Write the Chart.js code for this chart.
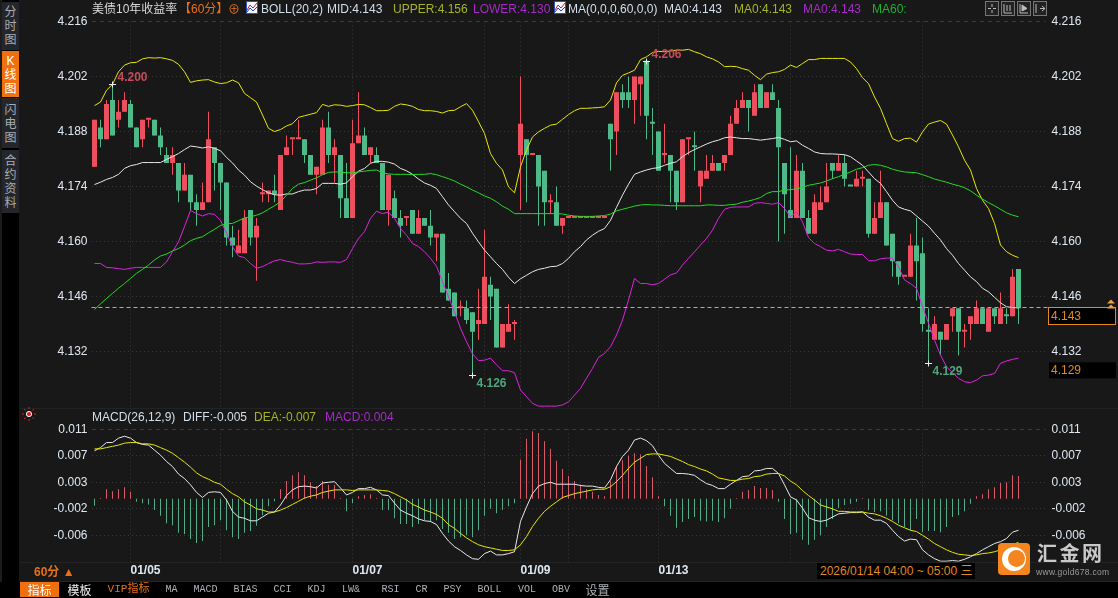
<!DOCTYPE html>
<html>
<head>
<meta charset="utf-8">
<title>美债10年收益率</title>
<script src="https://cdn.jsdelivr.net/npm/chart.js@4"></script>
<style>
html,body{margin:0;padding:0;background:#181818;overflow:hidden}
body{width:1118px;height:598px;position:relative;font:12px "Liberation Sans","Noto Sans CJK SC",sans-serif;color:#d3dfea}
canvas{position:absolute;left:0}
.t{position:absolute;white-space:pre;line-height:14px;z-index:3}
.side{position:absolute;left:2px;width:17px;background:#24262c;color:#a9adb3;text-align:center;font-size:12px;line-height:14px;z-index:3}
.tab{position:absolute;top:582px;height:15px;background:#000;color:#aeb2b6;text-align:center;font:10px/15px "Liberation Mono","Noto Sans CJK SC",monospace;z-index:3}
.rule{position:absolute;background:#232323;z-index:1}
.ico{position:absolute;z-index:3}
</style>
</head>
<body>
<div class="rule" style="left:0;top:0;width:19px;height:598px;background:#000"></div>
<div class="rule" style="left:0;top:0;width:2px;height:598px;background:#1c1c1c"></div>
<div class="rule" style="left:20px;top:408px;width:1098px;height:1px"></div>
<div class="rule" style="left:20px;top:562px;width:1098px;height:1px"></div>
<div class="rule" style="left:20px;top:581px;width:1098px;height:1px"></div>
<div class="rule" style="left:0;top:582px;width:1118px;height:16px;background:#000"></div>

<div class="side" style="top:2px;height:48px;padding-top:3px;box-sizing:border-box">分<br>时<br>图</div>
<div class="side" style="top:51px;height:46px;padding-top:3px;box-sizing:border-box;background:#f07010;color:#fff">K<br>线<br>图</div>
<div class="side" style="top:98px;height:50px;padding-top:5px;box-sizing:border-box">闪<br>电<br>图</div>
<div class="side" style="top:150px;height:63px;padding-top:4px;box-sizing:border-box">合<br>约<br>资<br>料</div>

<span class="t" style="left:92px;top:2px;color:#d8d8d8">美债10年收益率</span>
<span class="t" style="left:179px;top:2px;color:#e8701a">【60分】</span>
<span class="t" style="left:228px;top:3px;color:#e8701a">⊕</span>
<svg class="ico" style="left:246px;top:1px" width="12" height="14"><rect x="0.5" y="0.5" width="11" height="12" fill="#f4f6ff" stroke="#3050c0"/><path d="M1 9 L4 4 L7 7 L11 2" stroke="#d02020" fill="none"/><path d="M1 11 L4 7 L7 10 L11 6" stroke="#2040d0" fill="none"/></svg>
<span class="t" style="left:261px;top:2px">BOLL(20,2)</span>
<span class="t" style="left:327px;top:2px">MID:4.143</span>
<span class="t" style="left:393px;top:2px;color:#a6b422">UPPER:4.156</span>
<span class="t" style="left:473px;top:2px;color:#a62ac8">LOWER:4.130</span>
<svg class="ico" style="left:554px;top:1px" width="12" height="14"><rect x="0.5" y="0.5" width="11" height="12" fill="#f4f6ff" stroke="#3050c0"/><path d="M1 9 L4 4 L7 7 L11 2" stroke="#d02020" fill="none"/><path d="M1 11 L4 7 L7 10 L11 6" stroke="#2040d0" fill="none"/></svg>
<span class="t" style="left:568px;top:2px">MA(0,0,0,60,0,0)</span>
<span class="t" style="left:664px;top:2px">MA0:4.143</span>
<span class="t" style="left:734px;top:2px;color:#a6b422">MA0:4.143</span>
<span class="t" style="left:803px;top:2px;color:#a62ac8">MA0:4.143</span>
<span class="t" style="left:872px;top:2px;color:#1fb02f">MA60:</span>

<svg class="ico" style="left:985px;top:1px" width="62" height="15" fill="none" stroke="#bbb">
<rect x="0.5" y="0.5" width="13" height="14" fill="#222" stroke="#777"/><path d="M7 3V6M7 9V12M3 7.5H6M8 7.5H11"/>
<rect x="16.5" y="0.5" width="13" height="14" fill="#222" stroke="#777"/><path d="M19 3V12H27M22 4V10M25 4V10"/>
<rect x="32.5" y="0.5" width="13" height="14" fill="#222" stroke="#777"/><path d="M35 3V12H43"/><path d="M37 4L42 7.5L37 10Z" fill="#bbb"/>
<rect x="48.5" y="0.5" width="13" height="14" fill="#222" stroke="#777"/><path d="M51 3V12M55 7.5H60M57 5L60 7.5L57 10"/>
</svg>

<svg class="ico" style="left:22px;top:407px" width="14" height="14"><circle cx="7" cy="7" r="2.6" fill="#e02020" stroke="#fff"/><path d="M7 0V2M7 12V14M0 7H2M12 7H14M2 2L3.5 3.5M10.5 10.5L12 12M12 2L10.5 3.5M2 12L3.5 10.5" stroke="#e02020"/></svg>
<span class="t" style="left:92px;top:410px">MACD(26,12,9)</span>
<span class="t" style="left:183px;top:410px">DIFF:-0.005</span>
<span class="t" style="left:254px;top:410px;color:#a6b422">DEA:-0.007</span>
<span class="t" style="left:325px;top:410px;color:#a62ac8">MACD:0.004</span>

<span class="t" style="left:34px;top:565px;color:#e8701a;font-weight:bold">60分 ▲</span>
<span class="t" style="left:817px;top:563px;height:16px;line-height:16px;padding:0 3px;background:#000;color:#e08a20">2026/01/14 04:00 ~ 05:00 三</span>

<div class="ico" style="left:998px;top:543px;width:32px;height:32px;border-radius:4px;background:#f5851f;overflow:hidden">
  <div style="position:absolute;left:4px;top:4px;width:24px;height:24px;border-radius:50%;background:#fff"></div>
  <div style="position:absolute;left:10px;top:7px;width:17px;height:17px;border-radius:50%;background:#f5851f"></div>
</div>
<span class="t" style="left:1037px;top:543px;line-height:22px;font-size:20px;font-weight:bold;letter-spacing:2.5px;color:#c9c9c9">汇金网</span>
<span class="t" style="left:1036px;top:567px;line-height:10px;font-size:8.5px;color:#9a9a9a;letter-spacing:.3px">www.gold678.com</span>

<div class="tab" style="left:20px;width:39px;background:#f07010;color:#fff;font:12px/15px 'Noto Sans CJK SC'">指标</div>
<div class="tab" style="left:60px;width:39px;color:#eee;font:12px/15px 'Noto Sans CJK SC'">模板</div>
<div class="tab" style="left:100px;width:57px;color:#e8701a;font:11px/15px 'Liberation Mono','Noto Sans CJK SC'">VIP指标</div>
<div class="tab" style="left:158px;width:27px">MA</div>
<div class="tab" style="left:186px;width:39px">MACD</div>
<div class="tab" style="left:226px;width:39px">BIAS</div>
<div class="tab" style="left:266px;width:33px">CCI</div>
<div class="tab" style="left:300px;width:33px">KDJ</div>
<div class="tab" style="left:334px;width:34px">LW&amp;</div>
<div class="tab" style="left:374px;width:33px">RSI</div>
<div class="tab" style="left:408px;width:27px">CR</div>
<div class="tab" style="left:436px;width:33px">PSY</div>
<div class="tab" style="left:470px;width:39px">BOLL</div>
<div class="tab" style="left:510px;width:34px">VOL</div>
<div class="tab" style="left:545px;width:32px">OBV</div>
<div class="tab" style="left:578px;width:39px;font:12px/15px 'Noto Sans CJK SC'">设置</div>

<canvas id="priceChart" width="1118" height="410" style="top:0;z-index:2"></canvas>
<canvas id="macdChart" width="1118" height="188" style="top:410px;z-index:2"></canvas>

<script>
// candles (a green doji has its open a hair over its close)
const opens = [
  4.179,4.189,4.186,4.196,4.191,4.193,4.195,4.189,4.186,4.191,
  4.191,4.187,4.182,4.180,4.180,4.173,4.177,4.170,4.168,4.170,
  4.184,4.180,4.175,4.161,4.157,4.157,4.168,4.161,4.172,4.172,
  4.173,4.168,4.182,4.186,4.186,4.186,4.182,4.177,4.177,4.189,
  4.182,4.182,4.171,4.166,4.185,4.187,4.182,4.182,4.180,4.168,
  4.171,4.166,4.166,4.168,4.162,4.166,4.164,4.161,4.162,4.148,
  4.147,4.143,4.143,4.142,4.139,4.139,4.149,4.148,4.133,4.137,
  4.139,4.182,4.186,4.182,4.182,4.178,4.170,4.170,4.164,4.166,
  4.166,4.166,4.166,4.166,4.166,4.166,4.190,4.188,4.198,4.198,
  4.196,4.200,4.206,4.1901,4.188,4.182,4.182,4.178,4.170,4.186,
  4.1841,4.174,4.176,4.178,4.180,4.180,4.182,4.190,4.194,4.196,
  4.192,4.200,4.194,4.198,4.194,4.180,4.168,4.166,4.178,4.166,
  4.162,4.168,4.170,4.180,4.178,4.180,4.1741,4.174,4.176,4.176,
  4.162,4.166,4.170,4.162,4.155,4.151,4.151,4.159,4.157,4.1371,
  4.135,4.137,4.135,4.141,4.143,4.137,4.139,4.139,4.143,4.137,
  4.143,4.139,4.1411,4.141,4.153
];
const closes = [
  4.191,4.186,4.195,4.187,4.193,4.196,4.189,4.184,4.191,4.191,
  4.187,4.184,4.180,4.182,4.173,4.177,4.170,4.168,4.170,4.186,
  4.180,4.175,4.161,4.159,4.159,4.166,4.161,4.164,4.172,4.173,
  4.172,4.182,4.184,4.186,4.186,4.182,4.177,4.179,4.189,4.182,
  4.184,4.171,4.166,4.185,4.187,4.182,4.184,4.180,4.168,4.177,
  4.166,4.164,4.166,4.162,4.166,4.164,4.161,4.162,4.147,4.145,
  4.141,4.143,4.140,4.137,4.140,4.151,4.146,4.133,4.139,4.139,
  4.139,4.190,4.182,4.182,4.174,4.170,4.170,4.164,4.166,4.166,
  4.166,4.166,4.166,4.166,4.166,4.166,4.186,4.198,4.196,4.196,
  4.202,4.202,4.192,4.190,4.178,4.182,4.178,4.170,4.186,4.186,
  4.184,4.178,4.178,4.180,4.178,4.182,4.190,4.194,4.196,4.194,
  4.198,4.194,4.198,4.196,4.184,4.172,4.166,4.178,4.166,4.162,
  4.170,4.170,4.174,4.178,4.180,4.176,4.174,4.176,4.176,4.162,
  4.166,4.170,4.159,4.155,4.151,4.151,4.159,4.155,4.139,4.137,
  4.139,4.135,4.139,4.143,4.137,4.137,4.141,4.143,4.139,4.143,
  4.141,4.143,4.141,4.151,4.143
];
const highs = [
  4.191,4.191,4.196,4.200,4.196,4.198,4.196,4.189,4.191,4.191,
  4.191,4.189,4.184,4.184,4.180,4.180,4.177,4.172,4.175,4.193,
  4.184,4.180,4.175,4.164,4.163,4.168,4.168,4.166,4.175,4.173,
  4.177,4.182,4.187,4.186,4.191,4.186,4.182,4.179,4.191,4.193,
  4.186,4.182,4.180,4.191,4.198,4.189,4.184,4.184,4.180,4.177,
  4.173,4.168,4.166,4.168,4.168,4.166,4.168,4.162,4.162,4.152,
  4.147,4.145,4.145,4.142,4.148,4.163,4.151,4.148,4.139,4.144,
  4.140,4.202,4.186,4.182,4.182,4.178,4.172,4.174,4.166,4.166,
  4.166,4.166,4.166,4.166,4.166,4.166,4.190,4.198,4.200,4.202,
  4.202,4.202,4.206,4.194,4.188,4.190,4.182,4.178,4.186,4.186,
  4.188,4.178,4.182,4.182,4.180,4.182,4.192,4.196,4.198,4.196,
  4.200,4.200,4.198,4.200,4.196,4.180,4.184,4.182,4.180,4.168,
  4.172,4.174,4.180,4.180,4.182,4.182,4.174,4.178,4.178,4.176,
  4.170,4.178,4.170,4.162,4.155,4.151,4.162,4.166,4.161,4.143,
  4.141,4.137,4.139,4.143,4.143,4.139,4.141,4.145,4.143,4.143,
  4.143,4.147,4.143,4.153,4.153
];
const lows = [
  4.179,4.184,4.186,4.187,4.189,4.193,4.189,4.184,4.184,4.189,
  4.187,4.182,4.180,4.177,4.170,4.173,4.168,4.164,4.168,4.170,
  4.173,4.168,4.159,4.156,4.157,4.157,4.159,4.150,4.170,4.170,
  4.170,4.168,4.182,4.182,4.186,4.180,4.177,4.172,4.177,4.180,
  4.175,4.166,4.166,4.166,4.185,4.182,4.180,4.180,4.168,4.164,
  4.166,4.161,4.164,4.162,4.162,4.164,4.159,4.155,4.147,4.145,
  4.141,4.141,4.139,4.126,4.135,4.139,4.140,4.133,4.133,4.137,
  4.135,4.168,4.170,4.182,4.164,4.164,4.167,4.164,4.162,4.166,
  4.166,4.166,4.166,4.166,4.166,4.166,4.178,4.182,4.194,4.194,
  4.190,4.192,4.186,4.182,4.178,4.180,4.170,4.168,4.170,4.182,
  4.178,4.170,4.176,4.178,4.178,4.178,4.182,4.190,4.194,4.188,
  4.192,4.194,4.194,4.196,4.160,4.162,4.166,4.166,4.166,4.162,
  4.162,4.168,4.170,4.176,4.178,4.174,4.174,4.174,4.174,4.161,
  4.162,4.166,4.159,4.151,4.149,4.151,4.151,4.145,4.137,4.129,
  4.135,4.131,4.135,4.137,4.131,4.133,4.135,4.139,4.139,4.137,
  4.139,4.139,4.139,4.141,4.139
];

// BOLL(20,2) and MA60
const upper = [
  4.1946,4.1955,4.1985,4.2000,4.2032,4.2049,4.2055,4.2056,4.2065,4.2068,
  4.2067,4.2068,4.2065,4.2061,4.2051,4.2032,4.2005,4.2009,4.2011,4.2012,
  4.2006,4.2002,4.2004,4.2011,4.2004,4.1977,4.1966,4.1955,4.1922,4.1888,
  4.1880,4.1885,4.1894,4.1900,4.1916,4.1920,4.1924,4.1928,4.1949,4.1944,
  4.1948,4.1947,4.1944,4.1946,4.1949,4.1948,4.1941,4.1933,4.1933,4.1934,
  4.1944,4.1950,4.1948,4.1944,4.1936,4.1933,4.1933,4.1931,4.1927,4.1933,
  4.1934,4.1943,4.1951,4.1934,4.1905,4.1875,4.1824,4.1799,4.1782,4.1739,
  4.1724,4.1790,4.1833,4.1866,4.1879,4.1888,4.1896,4.1899,4.1911,4.1923,
  4.1933,4.1939,4.1939,4.1940,4.1941,4.1943,4.1960,4.2004,4.2023,4.2029,
  4.2036,4.2063,4.2070,4.2081,4.2084,4.2083,4.2085,4.2087,4.2087,4.2089,
  4.2083,4.2078,4.2070,4.2065,4.2057,4.2045,4.2046,4.2045,4.2040,4.2036,
  4.2023,4.2012,4.2026,4.2030,4.2032,4.2038,4.2049,4.2043,4.2053,4.2063,
  4.2063,4.2066,4.2066,4.2066,4.2066,4.2066,4.2057,4.2040,4.2017,4.2002,
  4.1968,4.1939,4.1900,4.1862,4.1855,4.1862,4.1863,4.1853,4.1879,4.1899,
  4.1904,4.1908,4.1899,4.1871,4.1841,4.1807,4.1782,4.1735,4.1705,4.1684,
  4.1646,4.1591,4.1574,4.1565,4.1559
];
const mid = [
  4.1745,4.1751,4.1758,4.1763,4.1771,4.1786,4.1793,4.1796,4.1801,4.1801,
  4.1801,4.1801,4.1809,4.1816,4.1824,4.1834,4.1843,4.1841,4.1838,4.1841,
  4.1837,4.1831,4.1814,4.1800,4.1782,4.1769,4.1752,4.1741,4.1732,4.1724,
  4.1719,4.1718,4.1721,4.1721,4.1727,4.1731,4.1731,4.1735,4.1748,4.1748,
  4.1748,4.1746,4.1749,4.1765,4.1779,4.1786,4.1799,4.1804,4.1804,4.1802,
  4.1797,4.1786,4.1780,4.1771,4.1759,4.1749,4.1743,4.1735,4.1714,4.1693,
  4.1676,4.1659,4.1646,4.1621,4.1599,4.1578,4.1561,4.1544,4.1529,4.1509,
  4.1493,4.1505,4.1514,4.1523,4.1529,4.1532,4.1536,4.1537,4.1544,4.1557,
  4.1574,4.1587,4.1604,4.1616,4.1626,4.1633,4.1654,4.1687,4.1718,4.1746,
  4.1771,4.1777,4.1782,4.1786,4.1788,4.1794,4.1799,4.1803,4.1816,4.1826,
  4.1834,4.1841,4.1848,4.1854,4.1858,4.1864,4.1866,4.1864,4.1862,4.1862,
  4.1860,4.1858,4.1860,4.1862,4.1865,4.1860,4.1854,4.1856,4.1845,4.1837,
  4.1828,4.1824,4.1823,4.1823,4.1822,4.1821,4.1816,4.1805,4.1794,4.1777,
  4.1760,4.1748,4.1727,4.1705,4.1688,4.1682,4.1678,4.1665,4.1652,4.1639,
  4.1621,4.1604,4.1582,4.1565,4.1544,4.1527,4.1510,4.1498,4.1481,4.1472,
  4.1458,4.1444,4.1434,4.1432,4.1431
];
const lower = [
  4.1544,4.1544,4.1534,4.1533,4.1531,4.1529,4.1532,4.1534,4.1534,4.1534,
  4.1534,4.1534,4.1548,4.1574,4.1599,4.1638,4.1679,4.1671,4.1665,4.1671,
  4.1669,4.1654,4.1621,4.1587,4.1563,4.1559,4.1544,4.1532,4.1536,4.1544,
  4.1551,4.1554,4.1550,4.1547,4.1543,4.1543,4.1544,4.1548,4.1547,4.1548,
  4.1548,4.1547,4.1554,4.1582,4.1608,4.1625,4.1659,4.1677,4.1671,4.1675,
  4.1659,4.1633,4.1616,4.1595,4.1587,4.1574,4.1557,4.1537,4.1498,4.1459,
  4.1421,4.1379,4.1345,4.1314,4.1297,4.1298,4.1303,4.1286,4.1271,4.1271,
  4.1266,4.1222,4.1205,4.1188,4.1181,4.1181,4.1181,4.1181,4.1184,4.1192,
  4.1209,4.1226,4.1252,4.1277,4.1305,4.1315,4.1332,4.1362,4.1400,4.1451,
  4.1506,4.1493,4.1493,4.1490,4.1493,4.1504,4.1515,4.1520,4.1540,4.1557,
  4.1574,4.1591,4.1608,4.1629,4.1659,4.1682,4.1687,4.1688,4.1688,4.1688,
  4.1697,4.1699,4.1697,4.1695,4.1699,4.1684,4.1663,4.1676,4.1650,4.1610,
  4.1595,4.1587,4.1578,4.1576,4.1580,4.1574,4.1568,4.1567,4.1567,4.1551,
  4.1551,4.1556,4.1558,4.1557,4.1536,4.1502,4.1493,4.1481,4.1434,4.1392,
  4.1349,4.1311,4.1281,4.1266,4.1252,4.1243,4.1241,4.1247,4.1258,4.1260,
  4.1264,4.1290,4.1296,4.1300,4.1303
];
const ma60 = [
  4.1427,4.1441,4.1455,4.1468,4.1481,4.1493,4.1506,4.1519,4.1529,4.1540,
  4.1553,4.1563,4.1568,4.1576,4.1582,4.1591,4.1602,4.1608,4.1612,4.1622,
  4.1631,4.1641,4.1645,4.1646,4.1653,4.1660,4.1663,4.1667,4.1673,4.1682,
  4.1691,4.1701,4.1718,4.1735,4.1746,4.1750,4.1756,4.1762,4.1770,4.1776,
  4.1777,4.1777,4.1775,4.1775,4.1777,4.1779,4.1781,4.1782,4.1775,4.1772,
  4.1771,4.1771,4.1771,4.1770,4.1771,4.1771,4.1773,4.1770,4.1765,4.1760,
  4.1754,4.1746,4.1739,4.1731,4.1724,4.1716,4.1710,4.1701,4.1690,4.1682,
  4.1671,4.1671,4.1671,4.1671,4.1671,4.1671,4.1671,4.1671,4.1670,4.1667,
  4.1665,4.1664,4.1664,4.1664,4.1665,4.1666,4.1670,4.1678,4.1682,4.1686,
  4.1690,4.1693,4.1694,4.1693,4.1693,4.1692,4.1691,4.1691,4.1691,4.1691,
  4.1691,4.1691,4.1693,4.1693,4.1692,4.1692,4.1694,4.1695,4.1700,4.1703,
  4.1707,4.1712,4.1722,4.1727,4.1727,4.1731,4.1732,4.1734,4.1738,4.1743,
  4.1746,4.1749,4.1754,4.1760,4.1765,4.1771,4.1777,4.1784,4.1788,4.1794,
  4.1796,4.1794,4.1790,4.1784,4.1780,4.1777,4.1776,4.1775,4.1770,4.1765,
  4.1759,4.1755,4.1751,4.1746,4.1742,4.1737,4.1729,4.1718,4.1708,4.1699,
  4.1691,4.1682,4.1673,4.1667,4.1663
];

// MACD(26,12,9)
const diff = [
  .0076,.0081,.0089,.0089,.0096,.0099,.0096,.0089,.0086,.0085,
  .0077,.0069,.0059,.0051,.0039,.0032,.0022,.0010,.0002,.0010,
  .0011,.0010,-.0002,-.0020,-.0029,-.0031,-.0035,-.0035,-.0029,-.0023,
  -.0021,-.0010,.0005,.0014,.0019,.0020,.0019,.0017,.0025,.0026,
  .0027,.0017,.0006,.0010,.0016,.0016,.0018,.0014,.0006,.0005,
  -.0007,-.0018,-.0023,-.0027,-.0032,-.0035,-.0036,-.0041,-.0055,-.0067,
  -.0076,-.0082,-.0089,-.0095,-.0096,-.0087,-.0083,-.0089,-.0089,-.0087,
  -.0084,-.0036,-.0013,.0008,.0020,.0024,.0026,.0023,.0023,.0023,
  .0023,.0021,.0020,.0020,.0018,.0017,.0030,.0051,.0067,.0077,
  .0093,.0096,.0092,.0084,.0069,.0056,.0048,.0040,.0040,.0039,
  .0037,.0030,.0024,.0021,.0016,.0016,.0023,.0029,.0035,.0036,
  .0044,.0045,.0048,.0048,.0040,.0022,.0003,-.0002,-.0015,-.0030,
  -.0034,-.0036,-.0034,-.0029,-.0024,-.0023,-.0022,-.0022,-.0021,-.0029,
  -.0034,-.0034,-.0039,-.0050,-.0060,-.0067,-.0064,-.0065,-.0081,-.0089,
  -.0095,-.0099,-.0099,-.0098,-.0099,-.0096,-.0092,-.0087,-.0081,-.0076,
  -.0071,-.0068,-.0063,-.0053,-.0050
];
const dea = [
  .0079,.0079,.0081,.0083,.0085,.0088,.0089,.0089,.0087,.0087,
  .0085,.0081,.0077,.0072,.0065,.0058,.0050,.0041,.0035,.0031,
  .0026,.0023,.0015,.0008,.0003,-.0005,-.0010,-.0016,-.0018,-.0021,
  -.0021,-.0018,-.0014,-.0009,-.0004,.0001,.0004,.0006,.0010,.0012,
  .0014,.0014,.0014,.0013,.0014,.0014,.0014,.0014,.0013,.0012,
  .0008,.0003,-.0002,-.0009,-.0013,-.0018,-.0021,-.0025,-.0031,-.0041,
  -.0047,-.0055,-.0062,-.0068,-.0073,-.0076,-.0078,-.0080,-.0082,-.0082,
  -.0081,-.0073,-.0060,-.0044,-.0031,-.0020,-.0012,-.0005,.0002,.0005,
  .0008,.0010,.0012,.0014,.0015,.0015,.0019,.0027,.0037,.0048,
  .0058,.0064,.0070,.0071,.0071,.0069,.0067,.0063,.0059,.0054,
  .0051,.0047,.0044,.0039,.0033,.0031,.0029,.0029,.0031,.0032,
  .0035,.0036,.0039,.0040,.0040,.0036,.0028,.0022,.0013,.0005,
  -.0002,-.0010,-.0013,-.0016,-.0020,-.0020,-.0021,-.0021,-.0021,-.0023,
  -.0024,-.0027,-.0031,-.0036,-.0042,-.0046,-.0050,-.0052,-.0058,-.0064,
  -.0071,-.0076,-.0081,-.0085,-.0088,-.0089,-.0090,-.0089,-.0087,-.0086,
  -.0084,-.0081,-.0079,-.0073,-.0069
];
const macdBars = [
  -.0011,.0001,.0015,.0012,.0015,.0018,.0011,-.0005,-.0007,-.0009,
  -.0018,-.0027,-.0039,-.0042,-.0054,-.0056,-.0064,-.0070,-.0067,-.0045,
  -.0042,-.0034,-.0050,-.0061,-.0064,-.0054,-.0051,-.0043,-.0026,-.0012,
  -.0004,.0015,.0028,.0037,.0042,.0037,.0026,.0020,.0028,.0022,
  .0022,.0001,-.0020,-.0007,.0004,.0006,.0007,.0001,-.0018,-.0018,
  -.0031,-.0040,-.0040,-.0045,-.0040,-.0034,-.0037,-.0034,-.0048,-.0054,
  -.0064,-.0061,-.0058,-.0061,-.0050,-.0027,-.0016,-.0023,-.0018,-.0012,
  -.0007,.0062,.0095,.0107,.0104,.0091,.0079,.0060,.0047,.0036,
  .0028,.0022,.0015,.0011,.0006,.0004,.0028,.0052,.0061,.0068,
  .0072,.0070,.0052,.0034,.0004,-.0012,-.0027,-.0046,-.0037,-.0032,
  -.0029,-.0035,-.0036,-.0035,-.0037,-.0031,-.0016,.0001,.0011,.0014,
  .0020,.0017,.0017,.0014,-.0005,-.0032,-.0056,-.0054,-.0065,-.0073,
  -.0065,-.0058,-.0045,-.0032,-.0015,-.0010,-.0008,-.0005,.0001,-.0018,
  -.0021,-.0020,-.0027,-.0034,-.0039,-.0045,-.0050,-.0032,-.0053,-.0051,
  -.0051,-.0053,-.0045,-.0029,-.0026,-.0020,-.0008,.0004,.0007,.0015,
  .0018,.0025,.0026,.0037,.0036
];

// axes
const priceTicks = [4.216, 4.202, 4.188, 4.174, 4.160, 4.146, 4.132];
const macdTicks = [0.011, 0.0068, 0.0026, -0.0016, -0.0058];
const gridSlots = [6, 21, 43, 65, 71, 79, 94, 116, 138];
const gridLabels = ["01/05", "", "01/07", "", "01/09", "", "01/13", "", ""];
const slotCount = 159; // 155 candles and an empty bit up to the right axis
const highMarks = [3, 92];
const lowMarks = [63, 139];

const slots = [];
for (let i = 0; i < slotCount; i++) slots.push(i);

const RED = "#ee4f5f";
const GREEN = "#50b98a";
const candleColors = closes.map((c, i) => (c >= opens[i] ? RED : GREEN));
const histColors = macdBars.map(v => (v >= 0 ? "#d85a68" : "#54ad88"));
const GRID = "#3a3a3a";

function xAxis(height, showLabels) {
  return {
    type: "category",
    offset: true,
    afterBuildTicks: s => { s.ticks = gridSlots.map(v => ({ value: v })); },
    afterFit: s => { s.height = height; s.paddingLeft = 0; s.paddingRight = 0; },
    grid: { color: GRID, offset: false, drawTicks: false },
    border: { display: false, dash: [1, 3] },
    ticks: {
      display: showLabels,
      autoSkip: false,
      maxRotation: 0,
      minRotation: 0,
      align: "start",
      padding: 2,
      color: "#dfe8f2",
      font: { family: "Liberation Sans", size: 12, weight: "bold" },
      callback: (v, i) => gridLabels[i]
    }
  };
}

function yAxis(position, min, max, tickList, drawGrid, width) {
  return {
    type: "linear",
    position,
    min,
    max,
    afterBuildTicks: s => { s.ticks = tickList.map(v => ({ value: v })); },
    afterFit: s => { s.width = width; s.paddingTop = 0; s.paddingBottom = 0; },
    grid: { display: drawGrid, color: GRID, drawTicks: false },
    border: { display: false, dash: ctx => (ctx.tick && ctx.tick.value === tickList[0] ? [4, 4] : [1, 3]) },
    ticks: {
      autoSkip: false,
      crossAlign: "near",
      padding: position === "left" ? 4 : 6,
      color: "#dfe8f2",
      font: { family: "Liberation Sans", size: 12 },
      callback: v => v.toFixed(3)
    }
  };
}

function lineSet(label, data, color) {
  return {
    type: "line", label, data, yAxisID: "y", order: 0,
    borderColor: color, borderWidth: 1, pointRadius: 0, tension: 0, fill: false
  };
}

// last price line, extreme price marks and the two price boxes on the right
const priceOverlay = {
  id: "priceOverlay",
  afterDraw(chart) {
    const { ctx, scales } = chart;
    const y = scales.y, x = scales.x;
    const last = closes[closes.length - 1];
    const lastY = Math.round(y.getPixelForValue(last)) - 0.5;
    ctx.save();
    ctx.strokeStyle = "#f0a040";
    ctx.lineWidth = 1;
    ctx.setLineDash([4, 3]);
    ctx.beginPath();
    ctx.moveTo(x.left, lastY);
    ctx.lineTo(1116, lastY);
    ctx.stroke();
    ctx.setLineDash([]);

    ctx.font = "bold 12px 'Liberation Sans'";
    ctx.textBaseline = "middle";
    highMarks.forEach(i => {
      const px = x.getPixelForValue(i), py = Math.round(y.getPixelForValue(highs[i])) + 0.5;
      ctx.strokeStyle = "#eee";
      ctx.beginPath();
      ctx.moveTo(px - 3.5, py); ctx.lineTo(px + 3.5, py);
      ctx.moveTo(px, py - 3); ctx.lineTo(px, py + 3);
      ctx.stroke();
      ctx.fillStyle = "#c94a5a";
      ctx.fillText(highs[i].toFixed(3), px + 5, py - 7);
    });
    lowMarks.forEach(i => {
      const px = x.getPixelForValue(i), py = Math.round(y.getPixelForValue(lows[i])) + 0.5;
      ctx.strokeStyle = "#eee";
      ctx.beginPath();
      ctx.moveTo(px - 3.5, py); ctx.lineTo(px + 3.5, py);
      ctx.moveTo(px, py - 3); ctx.lineTo(px, py + 3);
      ctx.stroke();
      ctx.fillStyle = "#4fa57e";
      ctx.fillText(lows[i].toFixed(3), px + 4, py + 8);
    });

    // boxes
    ctx.font = "12px 'Liberation Sans'";
    ctx.fillStyle = "#000";
    ctx.fillRect(1048, lastY, 68, 17);
    ctx.strokeStyle = "#e08a20";
    ctx.strokeRect(1048.5, lastY, 67, 17);
    ctx.fillStyle = "#e08a20";
    ctx.fillText(last.toFixed(3), 1051, lastY + 9);
    const lowest = lows[lowMarks[1]];
    const lowY = y.getPixelForValue(lowest);
    ctx.fillStyle = "#000";
    ctx.fillRect(1049, lowY - 1, 67, 16);
    ctx.fillStyle = "#e08a20";
    ctx.fillText(lowest.toFixed(3), 1051, lowY + 7);

    // small double arrow over the box
    ctx.fillStyle = "#f0a040";
    [lastY - 8, lastY - 3].forEach(t => {
      ctx.beginPath();
      ctx.moveTo(1111, t); ctx.lineTo(1115, t + 4); ctx.lineTo(1107, t + 4);
      ctx.closePath();
      ctx.fill();
    });
    ctx.restore();
  }
};

const priceMax = 4.216;
const priceMin = 4.11762;

new Chart(document.getElementById("priceChart"), {
  type: "bar",
  data: {
    labels: slots,
    datasets: [
      {
        label: "wick", data: highs.map((h, i) => [lows[i], h]), yAxisID: "y", order: 2,
        backgroundColor: candleColors, barThickness: 1, inflateAmount: 0, grouped: false
      },
      {
        label: "body", data: opens.map((o, i) => [o, closes[i]]), yAxisID: "y", order: 1,
        backgroundColor: candleColors, barThickness: 5, inflateAmount: 0, minBarLength: 2, grouped: false
      },
      lineSet("MA60", ma60, "#22dd22"),
      lineSet("LOWER", lower, "#e022e0"),
      lineSet("UPPER", upper, "#e8e800"),
      lineSet("MID", mid, "#e8e8e8")
    ]
  },
  options: {
    responsive: false,
    animation: false,
    devicePixelRatio: 1,
    layout: { padding: { top: 21.5, bottom: 2, left: 0, right: 0 } },
    plugins: { legend: { display: false }, tooltip: { enabled: false } },
    scales: {
      x: xAxis(0, false),
      y: yAxis("left", priceMin, priceMax, priceTicks, true, 91.5),
      yRight: yAxis("right", priceMin, priceMax, priceTicks, false, 72.5)
    }
  },
  plugins: [priceOverlay]
});

const macdMax = 0.011;
const macdMin = -0.00998;

new Chart(document.getElementById("macdChart"), {
  type: "bar",
  data: {
    labels: slots,
    datasets: [
      {
        label: "MACD", data: macdBars, yAxisID: "y", order: 2,
        backgroundColor: histColors, barThickness: 1, inflateAmount: 0, grouped: false
      },
      lineSet("DEA", dea, "#e8e800"),
      lineSet("DIFF", diff, "#e8e8e8")
    ]
  },
  options: {
    responsive: false,
    animation: false,
    devicePixelRatio: 1,
    layout: { padding: { top: 19.3, bottom: 0, left: 0, right: 0 } },
    plugins: { legend: { display: false }, tooltip: { enabled: false } },
    scales: {
      x: xAxis(36.3, true),
      y: yAxis("left", macdMin, macdMax, macdTicks, true, 91.5),
      yRight: yAxis("right", macdMin, macdMax, macdTicks, false, 72.5)
    }
  }
});
</script>
</body>
</html>
